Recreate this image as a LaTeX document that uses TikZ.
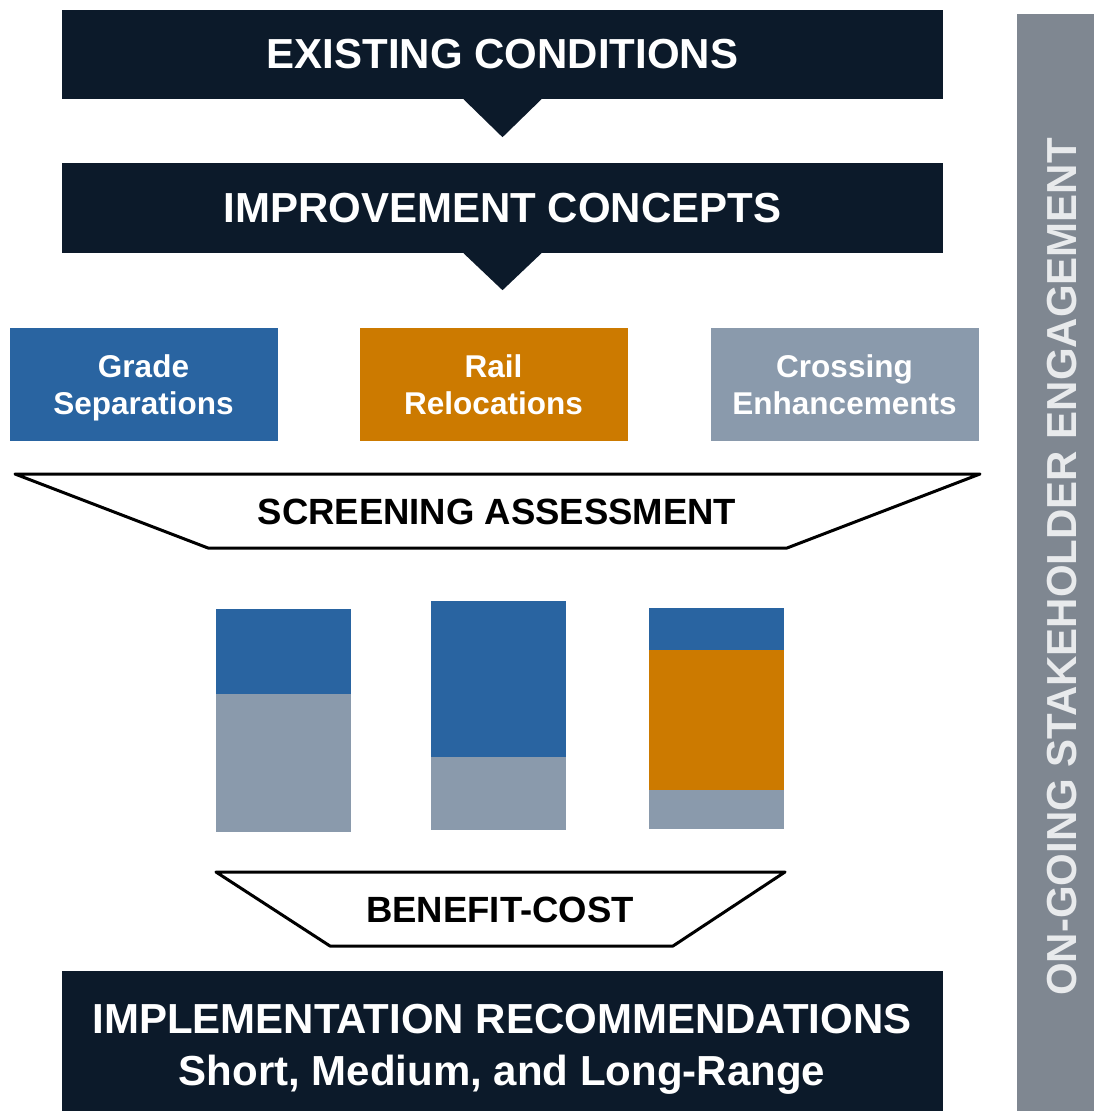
\documentclass[tikz,border=0pt]{standalone}
\usepackage{fontspec}
\setmainfont{Liberation Sans}

\definecolor{navy}{HTML}{0C1A2A}
\definecolor{gradeblue}{HTML}{2964A1}
\definecolor{railorange}{HTML}{CC7A00}
\definecolor{crossgray}{HTML}{8A9AAC}
\definecolor{sidegray}{HTML}{7F8791}
\definecolor{sidetext}{HTML}{E8EAEC}

\tikzset{
  stage/.style={fill=navy, text=white, inner sep=0pt, align=center,
    font=\fontsize{42}{52}\selectfont\bfseries,
    minimum width=881pt, minimum height=89pt},
  concept/.style={text=white, inner sep=0pt, align=center, text depth=0pt,
    font=\fontsize{31.5}{37}\selectfont\bfseries,
    minimum width=268pt, minimum height=113pt},
  filter/.style={draw=black, line width=3pt, fill=white, line join=round},
  filtertext/.style={text=black, inner sep=0pt, font=\fontsize{36.5}{44}\selectfont\bfseries},
}

\begin{document}
\begin{tikzpicture}[x=1pt, y=-1pt]
  \useasboundingbox (0,0) rectangle (1094,1111);

  % side bar
  \fill[sidegray] (1017,14) rectangle (1094,1111);
  \node[rotate=90, text=sidetext, inner sep=0pt, font=\fontsize{42}{50}\selectfont\bfseries]
    (engage) at (1062,567) {ON-GOING STAKEHOLDER ENGAGEMENT};

  % top stages
  \node[stage] (exist) at (502.5,54.5) {EXISTING CONDITIONS};
  \fill[navy] ([xshift=-39pt]exist.south) -- ([xshift=39pt]exist.south)
    -- ([yshift=-38pt]exist.south) -- cycle;

  \node[stage, minimum height=90pt] (improve) at (502.5,208) {IMPROVEMENT CONCEPTS};
  \fill[navy] ([xshift=-39pt]improve.south) -- ([xshift=39pt]improve.south)
    -- ([yshift=-37pt]improve.south) -- cycle;

  % concepts
  \node[concept, fill=gradeblue] (grade) at (143.5,384.5) {Grade\\Separations};
  \node[concept, fill=railorange] (rail) at (493.5,384.5) {Rail\\Relocations};
  \node[concept, fill=crossgray] (cross) at (844.5,384.5) {Crossing\\Enhancements};

  % screening
  \draw[filter] (15,474) -- (980,474) -- (787,548) -- (208,548) -- cycle;
  \node[filtertext] (screen) at (497,512) {SCREENING ASSESSMENT};

  % bars
  \fill[gradeblue] (216,609) rectangle (351,694);
  \fill[crossgray] (216,694) rectangle (351,832);

  \fill[gradeblue] (431,601) rectangle (566,757);
  \fill[crossgray] (431,757) rectangle (566,830);

  \fill[gradeblue] (649,608) rectangle (784,650);
  \fill[railorange] (649,650) rectangle (784,790);
  \fill[crossgray] (649,790) rectangle (784,829);

  % benefit-cost
  \draw[filter] (216,872) -- (785,872) -- (673,946) -- (330,946) -- cycle;
  \node[filtertext] (benefit) at (500,910) {BENEFIT-COST};

  % recommendations
  \fill[navy] (62,971) rectangle (943,1111);
  \node[text=white, inner sep=0pt, align=center, font=\fontsize{42}{52}\selectfont\bfseries]
    (recommend) at (502,1049) {IMPLEMENTATION RECOMMENDATIONS\\Short, Medium, and Long-Range};
\end{tikzpicture}
\end{document}
